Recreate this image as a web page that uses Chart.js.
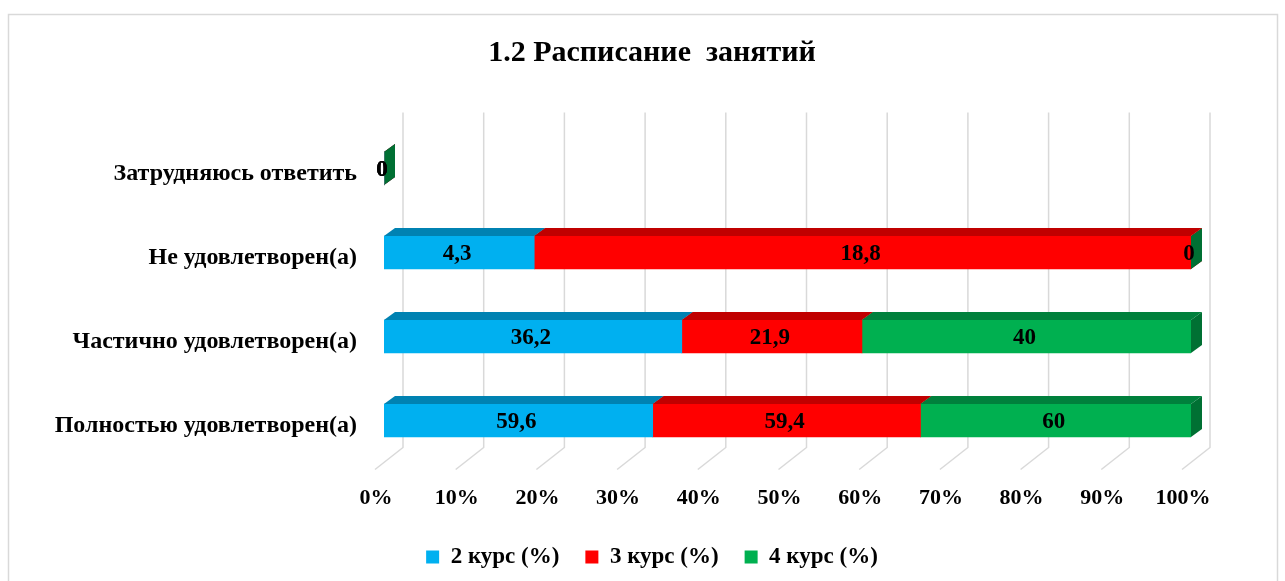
<!DOCTYPE html>
<html>
<head>
<meta charset="utf-8">
<style>
  html, body { margin: 0; padding: 0; background: #ffffff; }
  #wrap { width: 1285px; height: 581px; }
</style>
<script src="https://cdn.jsdelivr.net/npm/chart.js@4.4.1/dist/chart.umd.min.js"></script>
</head>
<body>
<div id="wrap"><canvas id="c" width="1285" height="581"></canvas></div>
<script>
// ---- data ----
const categories = ['Затрудняюсь ответить', 'Не удовлетворен(а)', 'Частично удовлетворен(а)', 'Полностью удовлетворен(а)'];
const seriesNames = ['2 курс (%)', '3 курс (%)', '4 курс (%)'];
const kurs2 = [0, 4.3, 36.2, 59.6];
const kurs3 = [0, 18.8, 21.9, 59.4];
const kurs4 = [0, 0, 40, 60];
const xTicks = [0, 10, 20, 30, 40, 50, 60, 70, 80, 90, 100];
const chartTitle = '1.2 Расписание  занятий';

// ---- styles ----
const frontColors = ['#00B0F0', '#FF0000', '#00B050'];
const topColors   = ['#0082B2', '#C00000', '#00803C'];
const sideColors  = ['#00779F', '#B00000', '#007033'];
const FONT = "'Liberation Serif', 'Times New Roman', serif";
const DX = 11, DY = 8;

// 100% stacked: share of each series within a category
const raw = [kurs2, kurs3, kurs4];
const totals = categories.map((_, i) => raw.reduce((s, arr) => s + arr[i], 0));
const pct = raw.map(arr => arr.map((v, i) => totals[i] > 0 ? v / totals[i] * 100 : 0));

function fmt(v) { return String(v).replace('.', ','); }

function poly(ctx, pts, color) {
  ctx.beginPath();
  ctx.moveTo(pts[0][0], pts[0][1]);
  for (let i = 1; i < pts.length; i++) ctx.lineTo(pts[i][0], pts[i][1]);
  ctx.closePath();
  ctx.fillStyle = color;
  ctx.fill();
}

const threeD = {
  id: 'threeD',
  beforeDraw(chart) {
    const ctx = chart.ctx;
    ctx.save();
    ctx.fillStyle = '#ffffff';
    ctx.fillRect(0, 0, chart.width, chart.height);
    ctx.strokeStyle = '#d9d9d9';
    ctx.lineWidth = 1.5;
    ctx.strokeRect(8.5, 14.5, 1269, 580);
    ctx.restore();
  },
  beforeDatasetsDraw(chart) {
    const ctx = chart.ctx, xs = chart.scales.x, a = chart.chartArea;
    ctx.save();
    // back wall + floor grid
    ctx.strokeStyle = '#d9d9d9';
    ctx.lineWidth = 1.5;
    const top = a.top - 14, backBottom = a.bottom - 15, front = a.bottom + 7;
    xTicks.forEach(v => {
      const px = xs.getPixelForValue(v);
      ctx.beginPath();
      ctx.moveTo(px + 19, top);
      ctx.lineTo(px + 19, backBottom);
      ctx.lineTo(px - 9, front);
      ctx.stroke();
    });
    // side faces
    chart.data.datasets.forEach((ds, di) => {
      const meta = chart.getDatasetMeta(di);
      meta.data.forEach(bar => {
        const p = bar.getProps(['x', 'y', 'height'], true);
        const yt = p.y - p.height / 2, yb = p.y + p.height / 2;
        poly(ctx, [[p.x, yt], [p.x + DX, yt - DY], [p.x + DX, yb - DY], [p.x, yb]], sideColors[di]);
      });
    });
    ctx.restore();
  },
  afterDatasetsDraw(chart) {
    const ctx = chart.ctx;
    ctx.save();
    chart.data.datasets.forEach((ds, di) => {
      const meta = chart.getDatasetMeta(di);
      meta.data.forEach(bar => {
        const p = bar.getProps(['x', 'y', 'base', 'height'], true);
        const x0 = Math.min(p.base, p.x), x1 = Math.max(p.base, p.x);
        if (x1 - x0 < 0.5) return;
        const yt = p.y - p.height / 2;
        poly(ctx, [[x0, yt], [x0 + DX, yt - DY], [x1 + DX, yt - DY], [x1, yt]], topColors[di]);
      });
    });
    // data labels
    ctx.fillStyle = '#000000';
    ctx.font = 'bold 23px ' + FONT;
    ctx.textAlign = 'center';
    ctx.textBaseline = 'middle';
    chart.data.datasets.forEach((ds, di) => {
      const meta = chart.getDatasetMeta(di);
      meta.data.forEach((bar, i) => {
        const p = bar.getProps(['x', 'y', 'base'], true);
        ctx.fillText(fmt(raw[di][i]), (p.x + p.base) / 2 - 2, p.y + 2);
      });
    });
    ctx.restore();
  }
};

Chart.defaults.font.family = FONT;
Chart.defaults.color = '#000000';

new Chart(document.getElementById('c'), {
  type: 'bar',
  data: {
    labels: categories,
    datasets: seriesNames.map((name, i) => ({
      label: name,
      data: pct[i],
      backgroundColor: frontColors[i],
      borderWidth: 0,
      barThickness: 33
    }))
  },
  options: {
    indexAxis: 'y',
    responsive: false,
    animation: false,
    layout: { padding: { left: 19, right: 0, top: 0, bottom: 2.5 } },
    scales: {
      x: {
        stacked: true,
        min: 0, max: 100,
        grid: { display: false },
        border: { display: false },
        ticks: {
          stepSize: 10,
          callback: v => v + '%',
          font: { size: 22, weight: 'bold' },
          color: '#000',
          labelOffset: -8,
          padding: 15
        },
        afterFit(s) { s.height = 57; }
      },
      y: {
        stacked: true,
        grid: { display: false },
        border: { display: false },
        ticks: {
          font: { size: 24, weight: 'bold' },
          color: '#000',
          padding: 19,
          labelOffset: 5
        },
        afterFit(s) { s.width = 365; }
      },
      yR: {
        type: 'linear',
        position: 'right',
        grid: { display: false },
        border: { display: false },
        ticks: { display: false },
        afterFit(s) { s.width = 94; }
      }
    },
    plugins: {
      title: {
        display: true,
        text: chartTitle,
        color: '#000',
        font: { size: 30, weight: 'bold' },
        padding: { top: 35, bottom: 55.5 }
      },
      legend: {
        position: 'bottom',
        labels: {
          boxWidth: 13,
          boxHeight: 13,
          padding: 26,
          color: '#000',
          font: { size: 23, weight: 'bold' }
        }
      },
      tooltip: { enabled: false }
    }
  },
  plugins: [threeD]
});
</script>
</body>
</html>
